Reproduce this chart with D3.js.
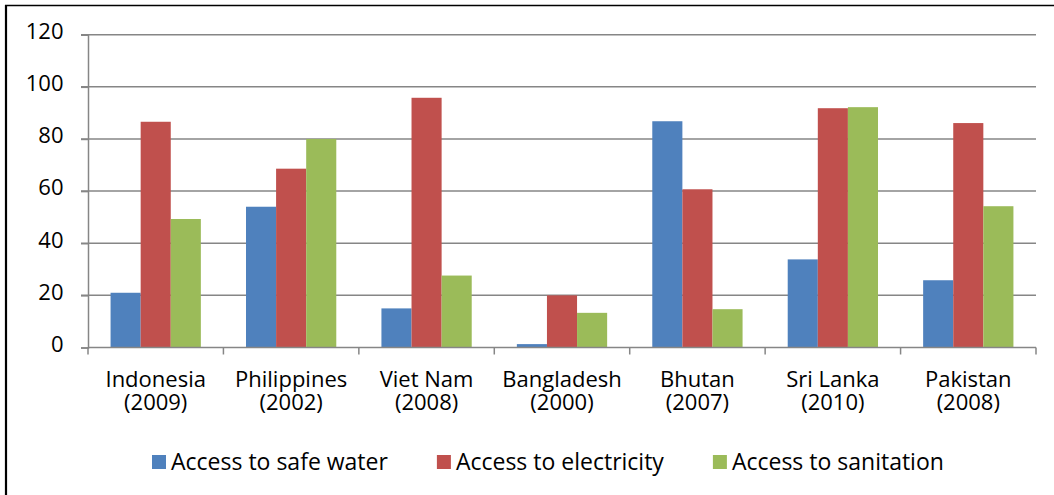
<!DOCTYPE html>
<html>
<head>
<meta charset="utf-8">
<script src="https://cdn.jsdelivr.net/npm/d3@7"></script>
<style>
  html, body { margin: 0; padding: 0; background: #fff; }
  svg { display: block; font-family: "Open Sans", "Noto Sans", sans-serif; }
</style>
</head>
<body>
<svg id="chart" width="1054" height="495"></svg>
<script>
// Countries (survey year) shown on the category axis
const categories = [
  ["Indonesia", "(2009)"],
  ["Philippines", "(2002)"],
  ["Viet Nam", "(2008)"],
  ["Bangladesh", "(2000)"],
  ["Bhutan", "(2007)"],
  ["Sri Lanka", "(2010)"],
  ["Pakistan", "(2008)"]
];
const seriesNames = ["Access to safe water", "Access to electricity", "Access to sanitation"];
const safeWater   = [21.0, 54.0, 15.0, 1.3, 86.8, 33.8, 25.8];
const electricity = [86.6, 68.6, 95.8, 20.0, 60.7, 91.8, 86.1];
const sanitation  = [49.3, 80.0, 27.6, 13.3, 14.7, 92.2, 54.2];
const yTicks = [0, 20, 40, 60, 80, 100, 120];
const colors = ["#4F81BD", "#C0504D", "#9BBB59"];

const seriesValues = [safeWater, electricity, sanitation];
const svg = d3.select("#chart");

// Frame lines around the chart object
svg.append("line").attr("x1", 5).attr("x2", 1054).attr("y1", 5.5).attr("y2", 5.5)
  .attr("stroke", "#000").attr("stroke-width", 1.6);
svg.append("line").attr("x1", 6).attr("x2", 6).attr("y1", 5).attr("y2", 495)
  .attr("stroke", "#000").attr("stroke-width", 2.2);

const plot = { left: 88, right: 1036, top: 34.7, bottom: 347.5 };

const x0 = d3.scaleBand()
  .domain(d3.range(categories.length))
  .range([plot.left, plot.right])
  .paddingInner(0).paddingOuter(0);

const x1 = d3.scaleBand()
  .domain(d3.range(seriesNames.length))
  .range([0, x0.bandwidth()])
  .paddingInner(0).paddingOuter(0.75);

const y = d3.scaleLinear().domain([0, 120]).range([plot.bottom, plot.top]);

const gridColor = "#868686";

// Horizontal gridlines (extend left as tick marks)
svg.append("g").selectAll("line")
  .data(yTicks.filter(t => t > 0))
  .join("line")
  .attr("x1", plot.left - 7).attr("x2", plot.right)
  .attr("y1", d => y(d)).attr("y2", d => y(d))
  .attr("stroke", gridColor).attr("stroke-width", 1.5);

// Bars
const groups = svg.append("g").selectAll("g")
  .data(categories)
  .join("g")
  .attr("transform", (d, i) => `translate(${x0(i)},0)`);

groups.selectAll("rect")
  .data((d, i) => seriesValues.map((vals, s) => ({ s, v: vals[i] })))
  .join("rect")
  .attr("x", d => x1(d.s))
  .attr("width", x1.bandwidth())
  .attr("y", d => y(d.v))
  .attr("height", d => y(0) - y(d.v))
  .attr("fill", d => colors[d.s]);

// Value axis (left)
const yAxis = d3.axisLeft(y).tickValues(yTicks).tickSize(7).tickPadding(0).tickFormat(d3.format("d"));
const gy = svg.append("g").attr("transform", `translate(${plot.left},0)`).call(yAxis);
gy.select(".domain").attr("stroke", gridColor).attr("stroke-width", 1.5);
gy.selectAll(".tick line").attr("stroke", gridColor).attr("stroke-width", 1.5);
gy.selectAll(".tick text")
  .attr("x", 63.5 - plot.left).attr("dy", null).attr("y", 3.8)
  .attr("font-size", 22).attr("fill", "#000")
  .attr("font-family", "'Open Sans', sans-serif");

// Category axis (bottom) with ticks on band boundaries
svg.append("line")
  .attr("x1", plot.left).attr("x2", plot.right)
  .attr("y1", plot.bottom).attr("y2", plot.bottom)
  .attr("stroke", gridColor).attr("stroke-width", 1.5);

const boundaries = d3.range(categories.length + 1).map(i =>
  i < categories.length ? x0(i) : x0(i - 1) + x0.bandwidth());
svg.append("g").selectAll("line")
  .data(boundaries)
  .join("line")
  .attr("x1", d => d).attr("x2", d => d)
  .attr("y1", plot.bottom).attr("y2", plot.bottom + 7)
  .attr("stroke", gridColor).attr("stroke-width", 1.5);

// Two-line category labels: country name, then survey year
const labelRows = [{ row: 0, base: 386.5 }, { row: 1, base: 409.5 }];
labelRows.forEach(({ row, base }) => {
  svg.append("g").selectAll("text")
    .data(categories)
    .join("text")
    .attr("text-anchor", "middle")
    .attr("font-size", 22)
    .attr("fill", "#000")
    .attr("x", (d, i) => x0(i) + x0.bandwidth() / 2)
    .attr("y", base)
    .text(d => d[row]);
});

// Legend
const legend = svg.append("g");
let lx = 152;
seriesNames.forEach((name, i) => {
  legend.append("rect")
    .attr("x", lx).attr("y", 455).attr("width", 14).attr("height", 14)
    .attr("fill", colors[i]);
  const t = legend.append("text")
    .attr("x", lx + 19).attr("y", 469.5)
    .attr("font-size", 23).attr("fill", "#000")
    .text(name);
  lx += 19 + t.node().getComputedTextLength() + 49;
});
</script>
</body>
</html>
